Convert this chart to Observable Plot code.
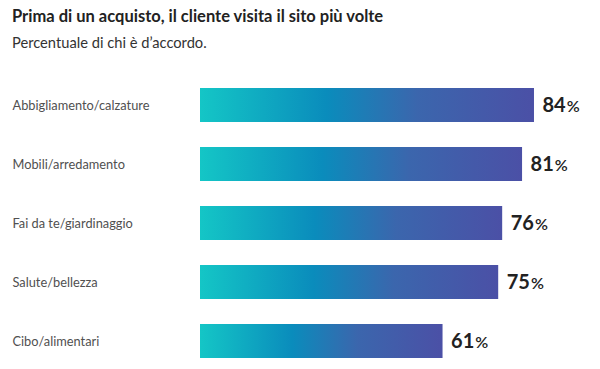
<!DOCTYPE html>
<html><head><meta charset="utf-8">
<script src="https://cdn.jsdelivr.net/npm/d3@7"></script>
<script src="https://cdn.jsdelivr.net/npm/@observablehq/plot@0.6"></script>
<style>
body{margin:0;background:#fff;font-family:Lato,sans-serif;}
#wrap{width:600px;height:369px;overflow:hidden;position:relative}
h1{margin:0;position:absolute;left:12px;top:6px;font-size:16.5px;font-weight:700;color:#222;font-family:Lato,sans-serif}
h2{margin:0;position:absolute;left:12px;top:33px;font-size:14.7px;font-weight:400;color:#333;font-family:Lato,sans-serif}
#chart{position:absolute;left:0;top:60px}
</style></head><body>
<div id="wrap">
<h1>Prima di un acquisto, il cliente visita il sito più volte</h1>
<h2>Percentuale di chi è d’accordo.</h2>
<div id="chart"></div>
</div>
<script>
const categories = ["Abbigliamento/calzature","Mobili/arredamento","Fai da te/giardinaggio","Salute/bellezza","Cibo/alimentari"];
const values = [84, 81, 76, 75, 61];
const data = categories.map((c,i)=>({cat:c, v:values[i]}));

const svg = Plot.plot({
  width: 600, height: 309,
  marginLeft: 200, marginRight: 2.4, marginTop: 27, marginBottom: 11,
  x: {domain: [0, 100], axis: null},
  y: {domain: categories, axis: null, paddingInner: 0.427, paddingOuter: 0},
  style: {fontFamily: "Lato, sans-serif", background: "#fff"},
  marks: [
    Plot.barX(data, {x: "v", y: "cat", fill: "url(#barGrad)"}),
    Plot.text(data, {y: "cat", text: "cat", frameAnchor: "left", dx: -188, textAnchor: "start", fontSize: 12.8, fill: "#505050"}),
    Plot.text(data, {x: "v", y: "cat", text: d => d.v + "%", dx: 8, textAnchor: "start", fontSize: 20, fontWeight: 700, fill: "#222", className: "vlab"})
  ]
});
const s = d3.select(svg);
const g = s.insert("defs", ":first-child").append("linearGradient").attr("id","barGrad").attr("x1","0").attr("x2","1").attr("y1","0").attr("y2","0");
[[0,"#14c6c6"],[0.38,"#0a8cbc"],[0.65,"#3b66ad"],[1,"#4b50a6"]].forEach(([o,c])=>g.append("stop").attr("offset",o).attr("stop-color",c));
s.selectAll(".vlab text").each(function(){
  const t = d3.select(this); const txt = t.text(); const n = txt.replace("%","");
  t.text(""); t.append("tspan").text(n); t.append("tspan").attr("font-size",16).attr("font-weight",600).attr("dx",1).text("%");
});
document.getElementById("chart").appendChild(svg);
</script>
</body></html>
